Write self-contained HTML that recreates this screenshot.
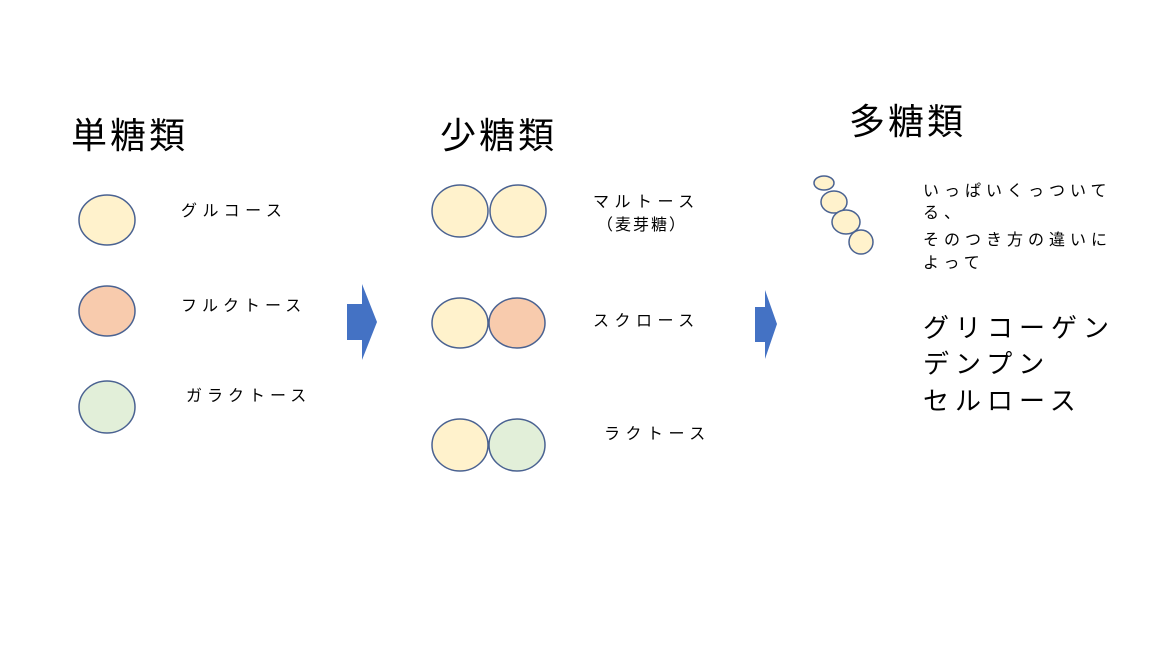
<!DOCTYPE html>
<html><head><meta charset="utf-8"><style>
body{margin:0;background:#fff;}
svg{display:block;}
text{font-family:"Liberation Sans","Noto Sans CJK JP",sans-serif;fill:#000;}
.s{font-size:16px;letter-spacing:5.5px;}
.h{font-size:36px;letter-spacing:3px;}
.b{font-size:26px;letter-spacing:6px;}
ellipse{stroke:#4a6291;stroke-width:1.5;}
</style></head><body>
<svg width="1152" height="648" viewBox="0 0 1152 648">
<text class="h" x="71" y="148">単糖類</text>
<text class="h" x="440" y="148">少糖類</text>
<text class="h" x="849" y="134">多糖類</text>

<ellipse cx="107" cy="220" rx="28" ry="25" fill="#fff2cc"/>
<ellipse cx="107" cy="311" rx="28" ry="25" fill="#f8cbad"/>
<ellipse cx="107" cy="407" rx="28" ry="26" fill="#e2efd9"/>
<text class="s" x="181" y="216">グルコース</text>
<text class="s" x="181" y="311" style="letter-spacing:5px">フルクトース</text>
<text class="s" x="186" y="401" style="letter-spacing:5px">ガラクトース</text>

<polygon points="347,304 362,304 362,284 377,322 362,360 362,340 347,340" fill="#4472c4"/>
<polygon points="755,307 765,307 765,290 777,324 765,359 765,342 755,342" fill="#4472c4"/>

<ellipse cx="460" cy="211" rx="28" ry="26" fill="#fff2cc"/>
<ellipse cx="518" cy="211" rx="28" ry="26" fill="#fff2cc"/>
<ellipse cx="460" cy="323" rx="28" ry="25" fill="#fff2cc"/>
<ellipse cx="517" cy="323" rx="28" ry="25" fill="#f8cbad"/>
<ellipse cx="460" cy="445" rx="28" ry="26" fill="#fff2cc"/>
<ellipse cx="517" cy="445" rx="28" ry="26" fill="#e2efd9"/>
<text class="s" x="593" y="207">マルトース</text>
<text class="s" x="597" y="230" style="letter-spacing:2px">（麦芽糖）</text>
<text class="s" x="593" y="326">スクロース</text>
<text class="s" x="604" y="439">ラクトース</text>

<ellipse cx="824" cy="183" rx="10" ry="7" fill="#fff2cc"/>
<ellipse cx="834" cy="202" rx="13" ry="11" fill="#fff2cc"/>
<ellipse cx="846" cy="222" rx="14" ry="12" fill="#fff2cc"/>
<ellipse cx="861" cy="242" rx="12" ry="12" fill="#fff2cc"/>
<text class="s" x="923" y="196" style="letter-spacing:5px">いっぱいくっついて</text>
<text class="s" x="923" y="218" style="letter-spacing:5px">る、</text>
<text class="s" x="923" y="245" style="letter-spacing:5px">そのつき方の違いに</text>
<text class="s" x="923" y="268" style="letter-spacing:5px">よって</text>
<text class="b" x="923" y="337">グリコーゲン</text>
<text class="b" x="923" y="373">デンプン</text>
<text class="b" x="923" y="410">セルロース</text>
</svg>
</body></html>
